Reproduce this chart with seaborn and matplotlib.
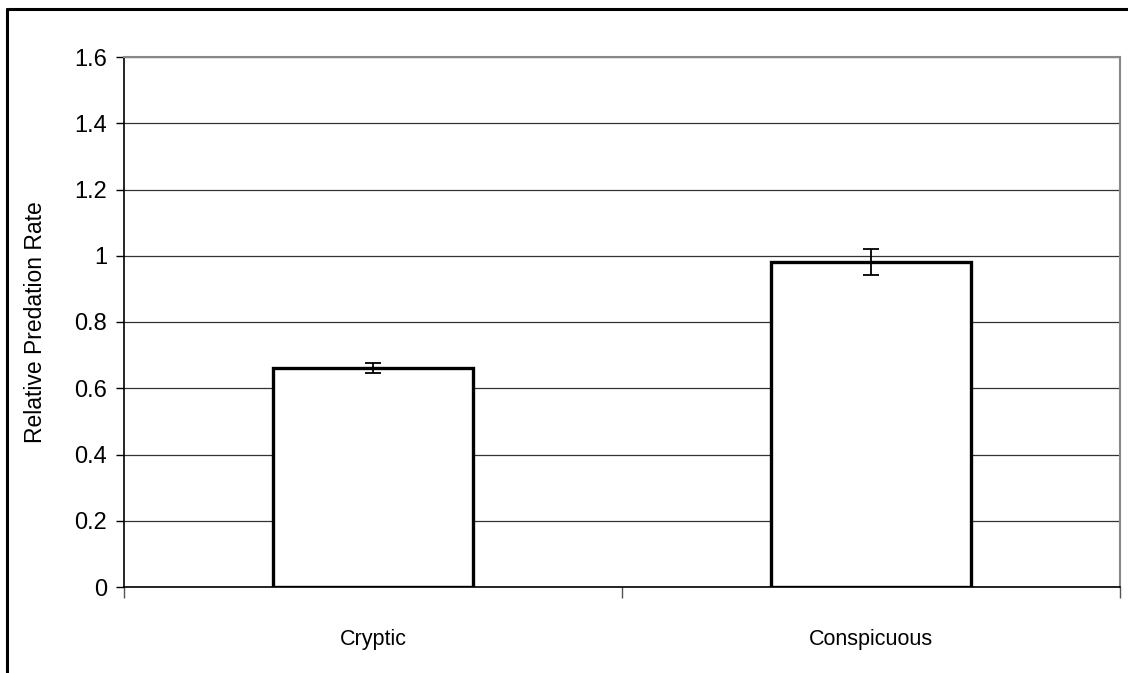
import matplotlib
matplotlib.use("Agg")
import matplotlib.pyplot as plt
import seaborn as sns
import pandas as pd
from matplotlib.lines import Line2D
from matplotlib.ticker import FixedLocator

categories = ["Cryptic", "Conspicuous"]
values = [0.661, 0.981]
errors = [0.015, 0.04]
yticks = [0, 0.2, 0.4, 0.6, 0.8, 1, 1.2, 1.4, 1.6]
ytick_labels = ["0", "0.2", "0.4", "0.6", "0.8", "1", "1.2", "1.4", "1.6"]

sns.set_theme(style="white")
plt.rcParams["font.family"] = ["Liberation Sans Narrow", "Liberation Sans", "DejaVu Sans"]
plt.rcParams["text.color"] = "black"
plt.rcParams["axes.labelcolor"] = "black"
plt.rcParams["xtick.labelcolor"] = "black"
plt.rcParams["ytick.labelcolor"] = "black"

df = pd.DataFrame({"cat": categories, "val": values})

fig = plt.figure(figsize=(11.28, 6.73), dpi=100)
ax = fig.add_axes([124/1128, 1-587/673, (1120-124)/1128, (587-57)/673])

sns.barplot(data=df, x="cat", y="val", ax=ax, color="white", edgecolor="black",
            linewidth=2.4, width=0.4, errorbar=None, zorder=3)
ax.errorbar(x=list(range(len(categories))), y=values, yerr=errors, fmt="none",
            ecolor="black", elinewidth=1.3, capsize=6, capthick=1.3, zorder=4)

ax.set_xlim(-0.5, 1.5)
ax.set_ylim(0, 1.6)
ax.set_yticks(yticks)
ax.set_yticklabels(ytick_labels, fontsize=17)
ax.yaxis.grid(True, color="#333333", linewidth=0.9, zorder=0)
ax.set_axisbelow(True)
ax.tick_params(axis="y", direction="out", length=6, width=1, color="black", left=True, pad=6)
ax.tick_params(axis="x", which="major", length=0, labelsize=15.5, pad=30)
ax.xaxis.set_minor_locator(FixedLocator([-0.5, 0.5, 1.5]))
ax.tick_params(axis="x", which="minor", direction="out", length=8, width=1, color="#555555", bottom=True)
ax.set_xlabel("")
ax.set_ylabel("Relative Predation Rate", fontsize=16.5, labelpad=20)

for s in ["left", "bottom"]:
    ax.spines[s].set_color("black")
    ax.spines[s].set_linewidth(1.2)
for s in ["top", "right"]:
    ax.spines[s].set_color("#888888")
    ax.spines[s].set_linewidth(1.5)
    ax.spines[s].set_visible(True)

fig.add_artist(Line2D([7/1128, 7/1128], [0, 1-9/673], transform=fig.transFigure,
                      color="black", linewidth=2.2))
fig.add_artist(Line2D([7/1128, 1], [1-9/673, 1-9/673], transform=fig.transFigure,
                      color="black", linewidth=2.2))

fig.savefig("out.png", dpi=100, facecolor="white")
